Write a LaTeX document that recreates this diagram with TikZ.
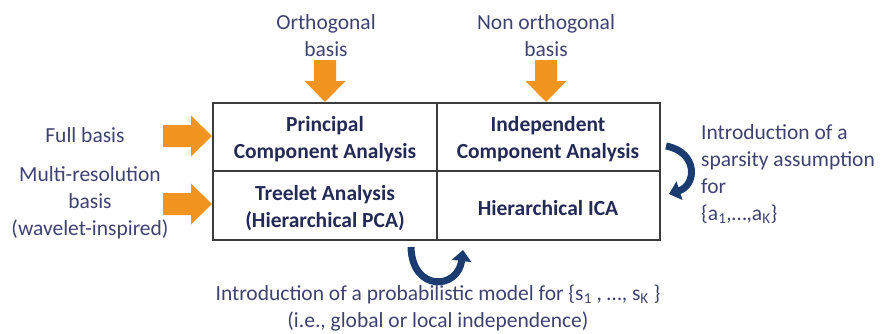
\documentclass[tikz,border=0pt]{standalone}
\usepackage{fontspec}
\setmainfont{Carlito}
\usetikzlibrary{arrows.meta}
\definecolor{orangeA}{RGB}{242,148,32}
\definecolor{navyA}{RGB}{27,60,112}
\definecolor{labelC}{RGB}{62,66,112}
\definecolor{cellC}{RGB}{36,42,86}
\definecolor{gridC}{RGB}{60,60,60}
\begin{document}
\begin{tikzpicture}[x=1pt,y=-1pt,
  lbl/.style={text=labelC, font=\fontsize{21.5}{27}\selectfont, align=center, inner sep=0pt},
  cell/.style={text=cellC, font=\fontsize{21.5}{27}\selectfont\bfseries, align=center, inner sep=0pt},
  % block arrow pointing along +x, tip at the origin, #1 = total length
  pics/blockarrow/.style={code={
    \fill[orangeA] (0,0) -- (-21,-20.5) -- (-21,-11) -- (-#1,-11) -- (-#1,11)
      -- (-21,11) -- (-21,20.5) -- cycle;}},
  bendarrow/.style={draw=navyA, line width=7pt, -{Triangle[width=19pt,length=11pt]}},
  grid/.style={draw=gridC, line width=1.3pt}]
\useasboundingbox (0,0) rectangle (882,333);

% table frame
\coordinate (tl) at (213,103);
\coordinate (tr) at (660,103);
\coordinate (bl) at (213,240);
\coordinate (br) at (660,240);
\coordinate (ml) at (213,171);
\coordinate (mr) at (660,171);
\coordinate (tm) at (437,103);
\coordinate (bm) at (437,240);
\draw[grid] (tl) rectangle (br);
\draw[grid] (ml) -- (mr);
\draw[grid] (tm) -- (bm);

% cells
\node[cell] (pca)  at (325,139) {Principal\\Component Analysis};
\node[cell] (ica)  at (548,139) {Independent\\Component Analysis};
\node[cell] (tree) at (325,208) {Treelet Analysis\\(Hierarchical PCA)};
\node[cell] (hica) at (548,208) {Hierarchical ICA};

% column headings
\node[lbl] (orth)  at (326,36) {Orthogonal\\basis};
\node[lbl] (north) at (546,36) {Non orthogonal\\basis};
\pic[rotate=-90] (aorth)  at (325,102) {blockarrow=42};
\pic[rotate=-90] (anorth) at (546,102) {blockarrow=42};

% row headings
\node[lbl] (full)  at (85,135) {Full basis};
\node[lbl] (multi) at (90,203) {Multi-resolution\\basis\\(wavelet-inspired)};
\pic (afull)  at (212,136) {blockarrow=49};
\pic (amulti) at (212,204) {blockarrow=49};

% sparsity step
\coordinate (s0) at (666,146);
\coordinate (s1) at (669,194);
\draw[bendarrow] (s0) .. controls (698,152) and (697,185) .. (s1);
\node[lbl, align=left, anchor=west] (sparse) at (701,174)
  {Introduction of a\\sparsity assumption\\for\\\{a\textsubscript{1},…,a\textsubscript{K}\}};

% probabilistic step
\coordinate (p0) at (411,247);
\coordinate (p1) at (463,250);
\draw[bendarrow] (p0) .. controls (412,292) and (458,290) .. (p1);
\node[lbl] (prob) at (438,308)
  {Introduction of a probabilistic model for \{s\textsubscript{1} , …, s\textsubscript{K} \}\\(i.e., global or local independence)};
\end{tikzpicture}
\end{document}
